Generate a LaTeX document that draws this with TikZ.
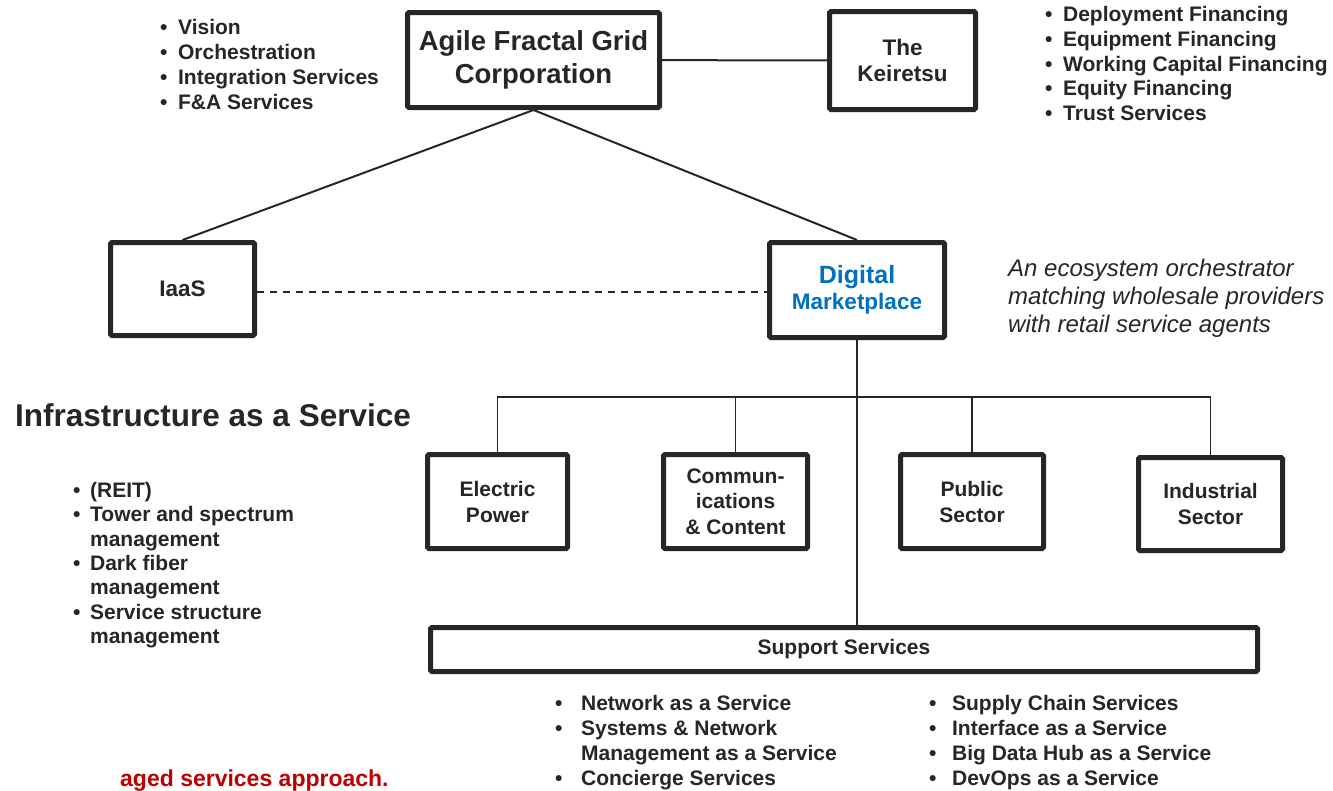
\documentclass[tikz,border=0pt]{standalone}
\usepackage{fontspec}
\setmainfont{Liberation Sans}
\definecolor{dmblue}{HTML}{0070C0}
\definecolor{apred}{HTML}{C00000}
\definecolor{ink}{HTML}{262626}

\tikzset{
    box/.style={rectangle, draw=ink, line width=5pt, rounded corners=1.5pt, fill=white, align=center, inner sep=0pt, text=ink, font=\fontsize{21}{26}\selectfont\bfseries},
    link/.style={draw=ink, line width=2pt},
    bus/.style={draw=ink, line width=1.5pt},
    bullets/.style={anchor=base west, inner sep=0pt, text=ink, font=\fontsize{21}{25}\selectfont\bfseries}
}

\begin{document}
\begin{tikzpicture}[x=1pt, y=-1pt]
    \useasboundingbox (0, 0) rectangle (1333, 790);

    % main boxes
    \node (AFG)[box, minimum width=252pt, minimum height=95pt, font=\fontsize{27.5}{33}\selectfont\bfseries] at (533.5, 60) {\raisebox{-4pt}{Agile Fractal Grid}\\\raisebox{-4pt}{Corporation}};
    \node (K)[box, minimum width=146pt, minimum height=98pt, font=\fontsize{22.5}{26}\selectfont\bfseries] at (902.5, 60.5) {The\\Keiretsu};
    \node (IaaS)[box, minimum width=144pt, minimum height=93pt, font=\fontsize{22.5}{26}\selectfont\bfseries] at (182.5, 289) {IaaS};
    \node (DM)[box, minimum width=175pt, minimum height=95pt, text=dmblue] at (857, 290) {{\fontsize{25}{31}\selectfont Digital}\\{\fontsize{22.5}{31}\selectfont Marketplace}};

    % sectors
    \node (EP)[box, minimum width=140pt, minimum height=94pt] at (497.5, 501.5) {Electric\\Power};
    \node (CC)[box, minimum width=144pt, minimum height=94pt, font=\fontsize{21}{25.5}\selectfont\bfseries] at (735.5, 501.5) {Commun-\\ications\\\& Content};
    \node (PS)[box, minimum width=143pt, minimum height=94pt] at (972, 501.5) {Public\\Sector};
    \node (IS)[box, minimum width=144pt, minimum height=93pt] at (1210.5, 504) {Industrial\\Sector};
    \node (SS)[box, minimum width=827pt, minimum height=44pt] at (844, 649.5) {Support Services};

    \coordinate (bus) at (857, 397);

    \draw [link] (AFG) -- (K);
    \draw [link] (AFG.south) -- (IaaS.north);
    \draw [link] (AFG.south) -- (DM.north);
    \draw [bus, dashed, dash pattern=on 7pt off 6pt] ([yshift=-3pt]IaaS.east) -- ([yshift=-3pt]IaaS.east -| DM.west);
    \draw [link] (DM.south) -- (DM.south |- SS.north);
    \draw [bus] (EP.north) -- (EP.north |- bus) -- (IS.north |- bus) -- (IS.north);
    \draw [bus] (CC.north) -- (CC.north |- bus);
    \draw [bus] (PS.north) -- (PS.north |- bus);

    % lists
    \node (corp)[bullets] at (160, 34) {\begin{tabular}[t]{@{}l@{\hspace{10.6pt}}l@{}}
        \textbullet & Vision\\
        \textbullet & Orchestration\\
        \textbullet & Integration Services\\
        \textbullet & F\&A Services
    \end{tabular}};
    \node (fin)[bullets, font=\fontsize{21}{24.8}\selectfont\bfseries] at (1045, 21.5) {\begin{tabular}[t]{@{}l@{\hspace{10.6pt}}l@{}}
        \textbullet & Deployment Financing\\
        \textbullet & Equipment Financing\\
        \textbullet & Working Capital Financing\\
        \textbullet & Equity Financing\\
        \textbullet & Trust Services
    \end{tabular}};
    \node (infra)[bullets, font=\fontsize{21}{24.3}\selectfont\bfseries] at (73, 497.5) {\begin{tabular}[t]{@{}l@{\hspace{9.6pt}}l@{}}
        \textbullet & (REIT)\\
        \textbullet & Tower and spectrum\\
                    & management\\
        \textbullet & Dark fiber\\
                    & management\\
        \textbullet & Service structure\\
                    & management
    \end{tabular}};
    \node (sup1)[bullets] at (555, 710.5) {\begin{tabular}[t]{@{}l@{\hspace{18.6pt}}l@{}}
        \textbullet & Network as a Service\\
        \textbullet & Systems \& Network\\
                    & Management as a Service\\
        \textbullet & Concierge Services
    \end{tabular}};
    \node (sup2)[bullets] at (929, 710.5) {\begin{tabular}[t]{@{}l@{\hspace{15.6pt}}l@{}}
        \textbullet & Supply Chain Services\\
        \textbullet & Interface as a Service\\
        \textbullet & Big Data Hub as a Service\\
        \textbullet & DevOps as a Service
    \end{tabular}};

    % free text
    \node (eco)[anchor=base west, inner sep=0pt, align=left, text=ink, font=\fontsize{24}{28}\selectfont\itshape] at (1008, 332) {An ecosystem orchestrator\\matching wholesale providers\\with retail service agents};
    \node (title)[anchor=base west, inner sep=0pt, text=ink, font=\fontsize{31.5}{36}\selectfont\bfseries] at (15, 426) {Infrastructure as a Service};
    \node (approach)[anchor=base west, inner sep=0pt, text=apred, font=\fontsize{23}{27}\selectfont\bfseries] at (120, 786) {aged services approach.};
\end{tikzpicture}
\end{document}
